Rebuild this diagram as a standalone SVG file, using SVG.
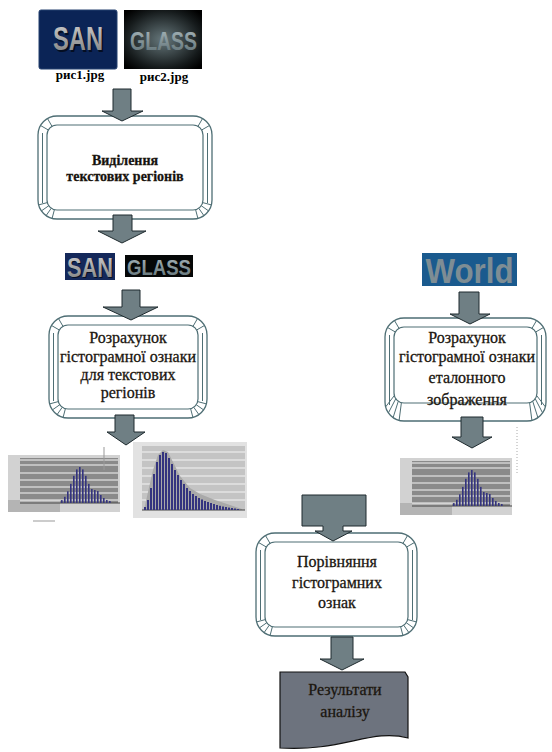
<svg xmlns="http://www.w3.org/2000/svg" xmlns:xlink="http://www.w3.org/1999/xlink" width="552" height="752" viewBox="0 0 552 752">
<style>
.arrow{fill:#6f7f84;stroke:#1e2a2e;stroke-width:1}
.bo{fill:#fff;stroke:#4e6e74;stroke-width:1.3}
.bi{fill:#fff;stroke:#4e6e74;stroke-width:1.2}
.h{stroke:#4e6e74;stroke-width:1;fill:none}
.t{font-family:"Liberation Serif","DejaVu Serif",serif;font-size:16px;fill:#111;stroke:#2a2010;stroke-width:0.3;text-anchor:middle}
.tb{font-weight:bold;font-size:14px}
.lbl{font-family:"Liberation Serif","DejaVu Serif",serif;font-size:13px;font-weight:bold;fill:#000;text-anchor:middle}
.img{font-family:"Liberation Sans",Arial,sans-serif;font-weight:bold;text-anchor:middle}
.grid{stroke:#f4f4f4;stroke-width:1}
.bar{fill:#34347f}
</style>
<defs>
<linearGradient id="gs" x1="0" y1="0" x2="0" y2="1"><stop offset="0" stop-color="#d0d0d0"/><stop offset="1" stop-color="#7c7c7c"/></linearGradient>
<linearGradient id="gg" x1="0" y1="0" x2="0" y2="1"><stop offset="0" stop-color="#a9b8bc"/><stop offset="1" stop-color="#5d6e73"/></linearGradient>
<radialGradient id="rg" cx="0.5" cy="0.5" r="0.65"><stop offset="0" stop-color="#66777b"/><stop offset="0.75" stop-color="#151a1b"/><stop offset="1" stop-color="#000"/></radialGradient>
<g id="hb" class="h">
<line x1="-2.6" y1="9.7" x2="-4.9" y2="18.4"/>
<line x1="-5.7" y1="8.2" x2="-10.9" y2="15.6"/>
<line x1="-8.2" y1="5.7" x2="-15.6" y2="10.9"/>
<line x1="-9.7" y1="2.6" x2="-18.4" y2="4.9"/>
</g>
<g id="hb3" class="h">
<line x1="-2.6" y1="9.7" x2="-4.9" y2="27.4"/>
<line x1="-5.7" y1="8.2" x2="-10.9" y2="24.6"/>
<line x1="-8.2" y1="5.7" x2="-15.6" y2="19.9"/>
<line x1="-9.7" y1="2.6" x2="-18.4" y2="13.9"/>
</g>
<g id="ht" class="h">
<line x1="-5" y1="8.66" x2="-9.5" y2="16.45"/>
<line x1="-8.66" y1="5" x2="-16.45" y2="9.5"/>
</g>
<g id="histA">
<rect x="0" y="0" width="112" height="57" fill="#d2d2d2"/>
<rect x="12" y="3" width="98" height="45" fill="#8a8a8a"/>
<rect x="0" y="45" width="52" height="12" fill="#b4b4b4"/>
<line class="grid" x1="12" y1="5" x2="110" y2="5"/>
<line class="grid" x1="12" y1="10" x2="110" y2="10"/>
<line class="grid" x1="12" y1="18" x2="110" y2="18"/>
<line class="grid" x1="12" y1="25" x2="110" y2="25"/>
<line class="grid" x1="12" y1="32" x2="110" y2="32"/>
<line class="grid" x1="12" y1="38" x2="110" y2="38"/>
<line class="grid" x1="12" y1="45" x2="110" y2="45"/>
<line x1="12" y1="48" x2="112" y2="48" stroke="#444" stroke-width="1"/>
<g class="bar">
<rect x="53" y="45.1" width="1.6" height="2.9"/>
<rect x="56" y="41.8" width="1.6" height="6.2"/>
<rect x="59" y="36.3" width="1.6" height="11.7"/>
<rect x="62" y="28.9" width="1.6" height="19.1"/>
<rect x="65" y="20.8" width="1.6" height="27.2"/>
<rect x="68" y="14.4" width="1.6" height="33.6"/>
<rect x="71" y="12" width="1.6" height="36"/>
<rect x="74" y="14.4" width="1.6" height="33.6"/>
<rect x="77" y="20.8" width="1.6" height="27.2"/>
<rect x="80" y="28.9" width="1.6" height="19.1"/>
<rect x="83" y="34" width="1.6" height="14"/>
<rect x="86" y="35" width="1.6" height="13"/>
<rect x="89" y="36" width="1.6" height="12"/>
<rect x="92" y="40" width="1.6" height="8"/>
<rect x="95" y="43" width="1.6" height="5"/>
<rect x="98" y="45" width="1.6" height="3"/>
<rect x="101" y="46" width="1.6" height="2"/>
</g>
</g>
</defs>

<g id="img-san">
<rect x="39" y="10" width="78" height="59" rx="2" fill="#0b2456" stroke="#24406e"/>
<text class="img" x="79.5" y="51.5" font-size="33" textLength="50" lengthAdjust="spacingAndGlyphs" fill="#000" opacity="0.6">SAN</text>
<text class="img" x="78" y="50" font-size="33" textLength="50" lengthAdjust="spacingAndGlyphs" fill="url(#gs)">SAN</text>
<text class="lbl" x="80" y="79">рис1.jpg</text>
</g>
<g id="img-glass">
<rect x="124" y="10" width="78" height="59" fill="url(#rg)"/>
<text class="img" x="163.5" y="50" font-size="25" textLength="67" lengthAdjust="spacingAndGlyphs" fill="url(#gg)">GLASS</text>
<text class="lbl" x="164" y="81">рис2.jpg</text>
</g>

<g id="box1">
<rect class="bo" x="38" y="116" width="174" height="103" rx="19"/>
<rect class="bi" x="47" y="125" width="156" height="85" rx="10"/>
<line class="h" x1="42.5" y1="133" x2="42.5" y2="203"/>
<line class="h" x1="207.5" y1="133" x2="207.5" y2="203"/>
<use href="#ht" transform="translate(57,135) scale(1,-1)"/>
<use href="#ht" transform="translate(193,135) scale(-1,-1)"/>
<use href="#hb" transform="translate(57,200)"/>
<use href="#hb" transform="translate(193,200) scale(-1,1)"/>
<text class="t tb" x="125" y="165">Виділення</text>
<text class="t tb" x="125" y="181">текстових регіонів</text>
</g>

<g id="img-san-small">
<rect x="65" y="253" width="50" height="27" fill="#14285a"/>
<text class="img" x="91" y="278" font-size="27" textLength="46" lengthAdjust="spacingAndGlyphs" fill="#000" opacity="0.6">SAN</text>
<text class="img" x="90" y="277" font-size="27" textLength="46" lengthAdjust="spacingAndGlyphs" fill="url(#gs)">SAN</text>
</g>
<g id="img-glass-small">
<rect x="125" y="255" width="68" height="22" fill="#050707"/>
<text class="img" x="159" y="275" font-size="22" textLength="64" lengthAdjust="spacingAndGlyphs" fill="url(#gg)">GLASS</text>
</g>

<g id="box2">
<rect class="bo" x="49" y="316" width="158" height="102" rx="19"/>
<rect class="bi" x="58" y="325" width="140" height="84" rx="10"/>
<line class="h" x1="53.5" y1="333" x2="53.5" y2="401"/>
<line class="h" x1="202.5" y1="333" x2="202.5" y2="401"/>
<use href="#ht" transform="translate(68,335) scale(1,-1)"/>
<use href="#ht" transform="translate(188,335) scale(-1,-1)"/>
<use href="#hb" transform="translate(68,399)"/>
<use href="#hb" transform="translate(188,399) scale(-1,1)"/>
<text class="t" x="128" y="343">Розрахунок</text>
<text class="t" x="128" y="362">гістограмної ознаки</text>
<text class="t" x="128" y="380">для текстових</text>
<text class="t" x="128" y="398">регіонів</text>
</g>

<g id="img-world">
<rect x="422" y="253" width="95" height="33" fill="#1a5a8e"/>
<text class="img" x="469.5" y="283" font-size="35" textLength="88" lengthAdjust="spacingAndGlyphs" fill="#7e8d94">World</text>
</g>

<g id="box3">
<rect class="bo" x="385" y="318" width="161" height="103" rx="19"/>
<rect class="bi" x="394" y="327" width="143" height="76" rx="10"/>
<line class="h" x1="389.5" y1="335" x2="389.5" y2="405"/>
<line class="h" x1="541.5" y1="335" x2="541.5" y2="405"/>
<use href="#ht" transform="translate(404,337) scale(1,-1)"/>
<use href="#ht" transform="translate(527,337) scale(-1,-1)"/>
<use href="#hb3" transform="translate(404,393)"/>
<use href="#hb3" transform="translate(527,393) scale(-1,1)"/>
<text class="t" x="467" y="343">Розрахунок</text>
<text class="t" x="467" y="362">гістограмної ознаки</text>
<text class="t" x="467" y="383">еталонного</text>
<text class="t" x="467" y="405">зображення</text>
</g>

<g id="hist1">
<use href="#histA" transform="translate(8,455)"/>
<line x1="104" y1="447" x2="104" y2="470" stroke="#999" stroke-width="1"/>
<line x1="33" y1="521" x2="55" y2="521" stroke="#999" stroke-width="1"/>
</g>

<g id="hist2">
<rect x="133" y="442" width="114" height="76" fill="#e2e2e2"/>
<rect x="142" y="446" width="103" height="64" fill="#c4c4c4"/>
<g class="grid">
<line x1="142" y1="452" x2="245" y2="452"/>
<line x1="142" y1="460" x2="245" y2="460"/>
<line x1="142" y1="468" x2="245" y2="468"/>
<line x1="142" y1="476" x2="245" y2="476"/>
<line x1="142" y1="484" x2="245" y2="484"/>
<line x1="142" y1="492" x2="245" y2="492"/>
<line x1="142" y1="500" x2="245" y2="500"/>
</g>
<polygon points="144,510 148,492 153,470 158,455 163,450 168,452 174,464 180,476 190,488 200,494 215,500 230,505 242,509 242,510" fill="#a9a9a9"/>
<line x1="142" y1="510" x2="245" y2="510" stroke="#444"/>
<g class="bar">
<rect x="144" y="507" width="2" height="3"/>
<rect x="147" y="500" width="2" height="10"/>
<rect x="150" y="488" width="2" height="22"/>
<rect x="153" y="474" width="2" height="36"/>
<rect x="156" y="462" width="2" height="48"/>
<rect x="159" y="455" width="2" height="55"/>
<rect x="162" y="452" width="2" height="58"/>
<rect x="165" y="453" width="2" height="57"/>
<rect x="168" y="458" width="2" height="52"/>
<rect x="171" y="464" width="2" height="46"/>
<rect x="174" y="470" width="2" height="40"/>
<rect x="177" y="475" width="2" height="35"/>
<rect x="180" y="480" width="2" height="30"/>
<rect x="183" y="484" width="2" height="26"/>
<rect x="186" y="488" width="2" height="22"/>
<rect x="189" y="491" width="2" height="19"/>
<rect x="192" y="494" width="2" height="16"/>
<rect x="195" y="496" width="2" height="14"/>
<rect x="198" y="498" width="2" height="12"/>
<rect x="201" y="499.5" width="2" height="10.5"/>
<rect x="204" y="501" width="2" height="9"/>
<rect x="207" y="502" width="2" height="8"/>
<rect x="210" y="503" width="2" height="7"/>
<rect x="213" y="504" width="2" height="6"/>
<rect x="216" y="505" width="2" height="5"/>
<rect x="219" y="505.8" width="2" height="4.2"/>
<rect x="222" y="506.5" width="2" height="3.5"/>
<rect x="225" y="507" width="2" height="3"/>
<rect x="228" y="507.6" width="2" height="2.4"/>
<rect x="231" y="508" width="2" height="2"/>
<rect x="234" y="508.5" width="2" height="1.5"/>
<rect x="237" y="509" width="2" height="1"/>
</g>
</g>

<g id="hist3">
<use href="#histA" transform="translate(400,458)"/>
<line x1="517" y1="427" x2="517" y2="473" stroke="#aaa" stroke-width="1" stroke-dasharray="1,2"/>
</g>

<g id="box4">
<rect class="bo" x="256" y="533" width="161" height="103" rx="19"/>
<rect class="bi" x="265" y="542" width="143" height="85" rx="10"/>
<line class="h" x1="260.5" y1="550" x2="260.5" y2="620"/>
<line class="h" x1="412.5" y1="550" x2="412.5" y2="620"/>
<use href="#ht" transform="translate(275,552) scale(1,-1)"/>
<use href="#ht" transform="translate(398,552) scale(-1,-1)"/>
<use href="#hb" transform="translate(275,617)"/>
<use href="#hb" transform="translate(398,617) scale(-1,1)"/>
<text class="t" x="337" y="567">Порівняння</text>
<text class="t" x="337" y="588">гістограмних</text>
<text class="t" x="337" y="608">ознак</text>
</g>

<g id="result">
<path d="M280,672 L405,672 L408,677 L408,738 C372,728 342,752 280,748 Z" fill="#6d737e" stroke="#111" stroke-width="1.2"/>
<text class="t" x="345" y="695">Результати</text>
<text class="t" x="345" y="717">аналізу</text>
</g>

<g id="connectors">
<polygon class="arrow" points="113,89 131,89 131,111 143,111 122,121 102,111 113,111"/>
<polygon class="arrow" points="113,215 132,215 132,231 146,231 122,243 98,231 113,231"/>
<polygon class="arrow" points="122,290 140,290 140,307 158,307 131,320 103,307 122,307"/>
<polygon class="arrow" points="115,415 134,415 134,432 145,432 126,445 107,432 115,432"/>
<polygon class="arrow" points="459,292 479,292 479,314 490,314 470,324 450,314 459,314"/>
<polygon class="arrow" points="461,417 483,417 483,437 492,437 472,448 452,437 461,437"/>
<polygon class="arrow" points="302,495 366,495 366,526 343,526 343,531 352,531 333,541 315,531 323,531 323,526 302,526"/>
<polygon class="arrow" points="331,637 353,637 353,659 364,659 342,670 320,659 331,659"/>
</g>
</svg>
